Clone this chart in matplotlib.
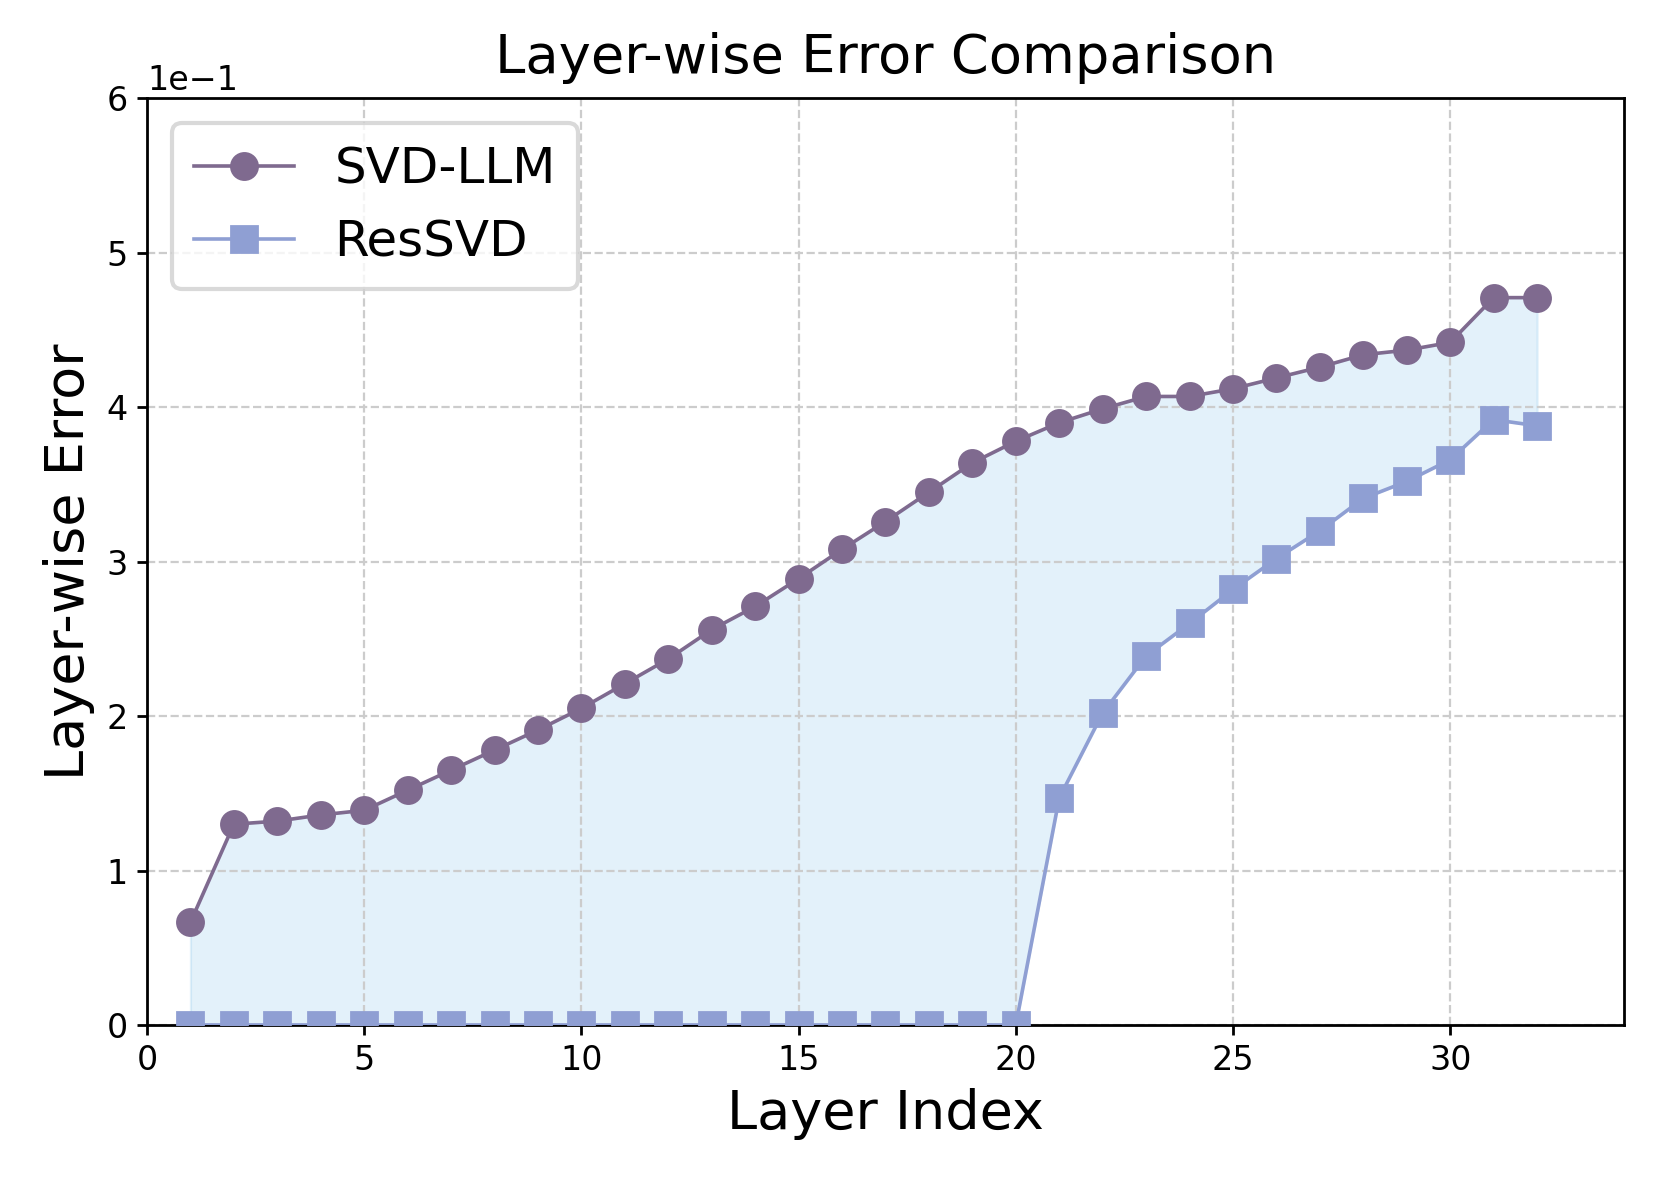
import numpy as np
import matplotlib.pyplot as plt

layers = np.arange(1, 33)
svd_llm = [0.0665, 0.130, 0.132, 0.136, 0.139, 0.152, 0.165, 0.178, 0.191, 0.205,
           0.221, 0.237, 0.256, 0.271, 0.289, 0.308, 0.326, 0.345, 0.364, 0.378,
           0.390, 0.399, 0.407, 0.407, 0.412, 0.419, 0.426, 0.434, 0.437, 0.442,
           0.471, 0.471]
ressvd = [0.0] * 20 + [0.147, 0.202, 0.239, 0.260, 0.282, 0.302, 0.320, 0.341,
                       0.352, 0.366, 0.392, 0.388]

c_svd = '#7f6a8f'
c_res = '#8f9fd3'

fig = plt.figure(figsize=(8.305, 5.93), dpi=200)
ax = fig.add_subplot(1, 1, 1)
fig.subplots_adjust(left=0.0885, right=0.9777, top=0.917, bottom=0.1358)

ax.fill_between(layers, svd_llm, ressvd, color='#87c4ec', alpha=0.23, linewidth=0.8)
ax.plot(layers, svd_llm, marker='o', color=c_svd, markersize=9.4, linewidth=1.3,
        label='SVD-LLM', zorder=3)
ax.plot(layers, ressvd, marker='s', color=c_res, markersize=9.2, linewidth=1.3,
        label='ResSVD', zorder=3)

ax.set_xlim(0, 34)
ax.set_ylim(0, 0.6)
ax.set_xticks([0, 5, 10, 15, 20, 25, 30])
ax.ticklabel_format(style='sci', axis='y', scilimits=(0, 0))
ax.grid(True, linestyle='--', color='#cccccc', linewidth=0.8)
ax.tick_params(labelsize=12, width=1.0)
ax.yaxis.get_offset_text().set_fontsize(12)
for s in ax.spines.values():
    s.set_linewidth(1.0)

ax.set_title('Layer-wise Error Comparison', fontsize=19.6, pad=9)
ax.set_xlabel('Layer Index', fontsize=19.5)
ax.set_ylabel('Layer-wise Error', fontsize=19.5)
leg = ax.legend(loc='upper left', fontsize=18, borderpad=0.45, handlelength=2.0,
                handletextpad=0.8, labelspacing=0.5)
leg.get_frame().set_linewidth(1.5)
leg.get_frame().set_edgecolor('#d0d0d0')

plt.savefig('out.png', dpi=200)
